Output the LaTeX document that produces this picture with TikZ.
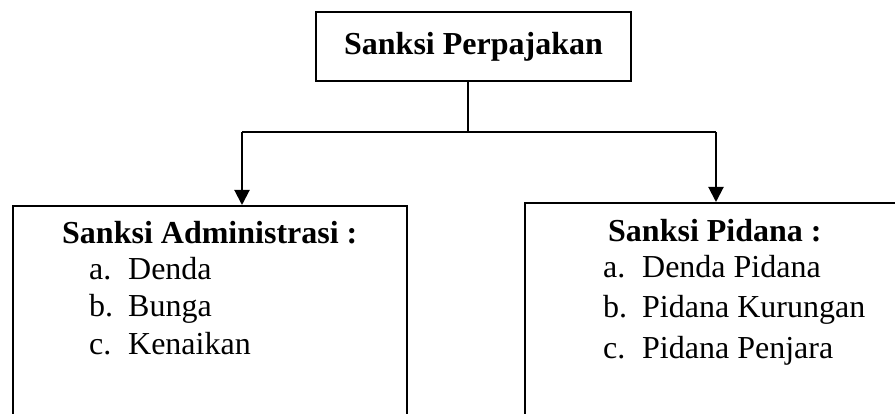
\documentclass[tikz,border=0pt]{standalone}
\usepackage{fontspec}
\setmainfont{Liberation Serif}
\usetikzlibrary{arrows.meta}
\tikzset{
  boxnode/.style={draw, line width=2.2pt, rectangle, inner sep=0pt},
  txt/.style={inner sep=0pt, anchor=base west, font=\fontsize{32}{38}\selectfont},
  hd/.style={txt, font=\fontsize{32}{38}\selectfont\bfseries},
  conn/.style={line width=2pt},
  arr/.style={conn, -{Triangle[width=15pt,length=15pt]}}
}
\begin{document}
\begin{tikzpicture}[x=1pt,y=-1pt]
\useasboundingbox (0,0) rectangle (895,414);
\clip (0,0) rectangle (895,414);
\node[boxnode, minimum width=315pt, minimum height=69pt, font=\fontsize{32}{38}\selectfont\bfseries] (top) at (473.5,46.5) {Sanksi Perpajakan};
\node[boxnode, anchor=north west, minimum width=394pt, minimum height=260pt] (left) at (12,205) {};
\node[boxnode, anchor=north west, minimum width=420pt, minimum height=260pt] (right) at (524,202) {};
\coordinate (junc) at (468,132);
\coordinate (jl) at (242,132);
\coordinate (jr) at (716,132);
\draw[conn] (top.south -| junc) -- (junc);
\draw[conn] (jl) -- (jr);
\draw[arr] (jl) -- (jl |- left.north);
\draw[arr] (jr) -- (jr |- right.north);
\node[hd] (lh) at (62,244) {Sanksi Administrasi :};
\node[txt] (la) at (89,280) {\makebox[39pt][l]{a.}Denda};
\node[txt] (lb) at (89,317) {\makebox[39pt][l]{b.}Bunga};
\node[txt] (lc) at (89,355) {\makebox[39pt][l]{c.}Kenaikan};
\node[hd] (rh) at (608,242) {Sanksi Pidana :};
\node[txt] (ra) at (603,278) {\makebox[39pt][l]{a.}Denda Pidana};
\node[txt] (rb) at (603,318) {\makebox[39pt][l]{b.}Pidana Kurungan};
\node[txt] (rc) at (603,358) {\makebox[39pt][l]{c.}Pidana Penjara};
\end{tikzpicture}
\end{document}
